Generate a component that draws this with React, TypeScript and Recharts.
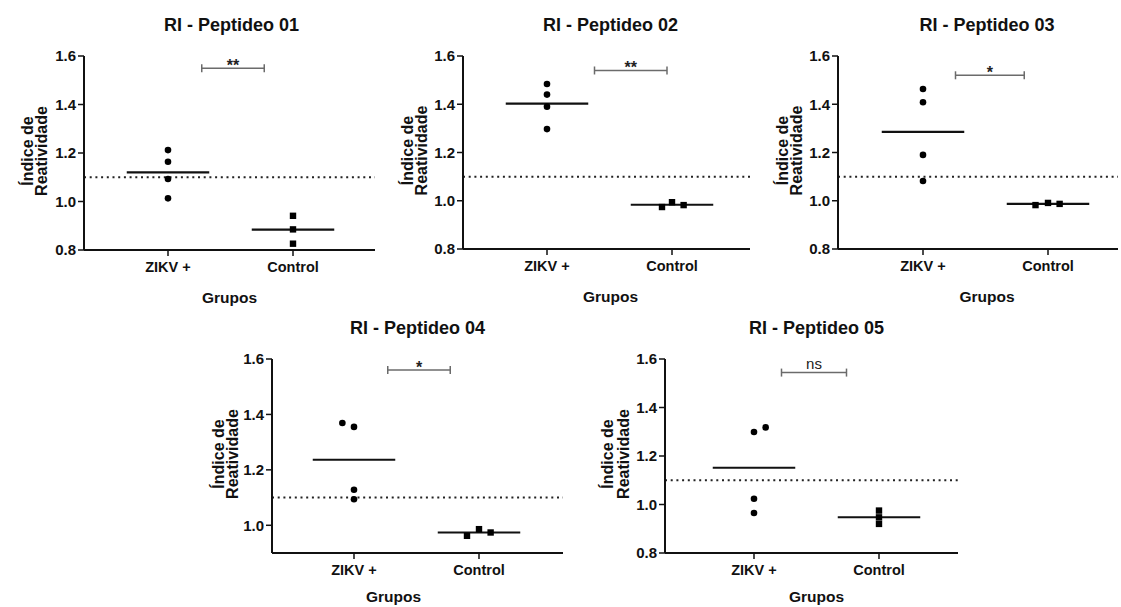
import { ScatterChart, Scatter, XAxis, YAxis, ReferenceLine, Customized } from "recharts";

const FONT = "'Liberation Sans', Arial, Helvetica, sans-serif";

const groups = ["ZIKV +", "Control"];
const cutoff = 1.1;

const fullTicks = [0.8, 1.0, 1.2, 1.4, 1.6];
const shortTicks = [1.0, 1.2, 1.4, 1.6];

// Índice de Reatividade per peptide
const p1Zikv = [1.212, 1.164, 1.093, 1.013];
const p1Control = [0.941, 0.885, 0.826];
const p2Zikv = [1.484, 1.44, 1.39, 1.297];
const p2Control = [0.974, 0.994, 0.982];
const p3Zikv = [1.463, 1.408, 1.19, 1.082];
const p3Control = [0.982, 0.991, 0.987];
const p4Zikv = [1.369, 1.355, 1.128, 1.094];
const p4Control = [0.962, 0.986, 0.974];
const p5Zikv = [1.299, 1.318, 1.024, 0.965];
const p5Control = [0.975, 0.947, 0.92];

const significance = ["**", "**", "*", "*", "ns"];

type Box = { x: number; y: number; w: number; h: number };
type Plot = { l: number; r: number; t: number; b: number };

type Panel = {
  title: string;
  zikv: number[];
  control: number[];
  zikvJitter: number[];
  controlJitter: number[];
  sig: string;
  box: Box;
  plot: Plot;
  xDomain: [number, number];
  yDomain: [number, number];
  yTicks: number[];
  bracket: [number, number, number];
  titleDx: number;
  groupDx: number;
  labelDx: [number, number];
};

const panels: Panel[] = [
  {
    title: "RI - Peptideo 01",
    zikv: p1Zikv,
    control: p1Control,
    zikvJitter: [0, 0, 0, 0],
    controlJitter: [0, 0, 0],
    sig: significance[0],
    box: { x: 0, y: 0, w: 380, h: 310 },
    plot: { l: 84, r: 375, t: 56, b: 250 },
    xDomain: [0.328, 2.656],
    yDomain: [0.8, 1.6],
    yTicks: fullTicks,
    bracket: [1.27, 1.77, 1.55],
    titleDx: 2,
    groupDx: 0,
    labelDx: [-51, -37],
  },
  {
    title: "RI - Peptideo 02",
    zikv: p2Zikv,
    control: p2Control,
    zikvJitter: [0, 0, 0, 0],
    controlJitter: [-0.08, 0, 0.093],
    sig: significance[1],
    box: { x: 380, y: 0, w: 375, h: 310 },
    plot: { l: 463, r: 750, t: 56, b: 249 },
    xDomain: [0.328, 2.624],
    yDomain: [0.8, 1.6],
    yTicks: fullTicks,
    bracket: [1.38, 1.96, 1.54],
    titleDx: 4,
    groupDx: 4,
    labelDx: [-50, -36],
  },
  {
    title: "RI - Peptideo 03",
    zikv: p3Zikv,
    control: p3Control,
    zikvJitter: [0, 0, 0, 0],
    controlJitter: [-0.1, 0, 0.093],
    sig: significance[2],
    box: { x: 755, y: 0, w: 366, h: 310 },
    plot: { l: 838, r: 1118, t: 56, b: 249 },
    xDomain: [0.32, 2.56],
    yDomain: [0.8, 1.6],
    yTicks: fullTicks,
    bracket: [1.26, 1.81, 1.52],
    titleDx: 9,
    groupDx: 9,
    labelDx: [-50, -36],
  },
  {
    title: "RI - Peptideo 04",
    zikv: p4Zikv,
    control: p4Control,
    zikvJitter: [-0.093, 0, 0, 0],
    controlJitter: [-0.096, 0, 0.093],
    sig: significance[3],
    box: { x: 180, y: 305, w: 390, h: 302 },
    plot: { l: 272, r: 563, t: 359, b: 553 },
    xDomain: [0.344, 2.672],
    yDomain: [0.9, 1.6],
    yTicks: shortTicks,
    bracket: [1.27, 1.77, 1.56],
    titleDx: 0,
    groupDx: -24,
    labelDx: [-48, -34],
  },
  {
    title: "RI - Peptideo 05",
    zikv: p5Zikv,
    control: p5Control,
    zikvJitter: [0, 0.093, 0, 0],
    controlJitter: [0, 0, 0],
    sig: significance[4],
    box: { x: 570, y: 305, w: 395, h: 302 },
    plot: { l: 665, r: 958, t: 359, b: 553 },
    xDomain: [0.288, 2.632],
    yDomain: [0.8, 1.6],
    yTicks: fullTicks,
    bracket: [1.22, 1.74, 1.544],
    titleDx: 5,
    groupDx: 5,
    labelDx: [-52, -36],
  },
];

const Y_AXIS_W = 40;
const X_AXIS_H = 30;
const HALF = 0.33;

const mean = (v: number[]) => v.reduce((a, b) => a + b, 0) / v.length;

function PanelText({ p }: { p: Panel }) {
  const cx = (p.plot.l + p.plot.r) / 2 - p.box.x;
  const cy = (p.plot.t + p.plot.b) / 2 - p.box.y;
  const l = p.plot.l - p.box.x;
  const groupY = Math.min(p.plot.b - p.box.y + 53, p.box.h - 5);
  return (
    <g fontFamily={FONT} fontWeight="bold" fill="#111">
      <text x={cx + p.titleDx} y={p.plot.t - p.box.y - 25} textAnchor="middle" fontSize={18}>
        {p.title}
      </text>
      <text x={cx + p.groupDx} y={groupY} textAnchor="middle" fontSize={15.5}>
        Grupos
      </text>
      <text
        transform={`translate(${l + p.labelDx[0]},${cy - 2}) rotate(-90)`}
        textAnchor="middle"
        fontSize={16}
      >
        Índice de
      </text>
      <text
        transform={`translate(${l + p.labelDx[1]},${cy - 2}) rotate(-90)`}
        textAnchor="middle"
        fontSize={16}
      >
        Reatividade
      </text>
    </g>
  );
}

function PanelChart({ p }: { p: Panel }) {
  const zikvData = p.zikv.map((v, i) => ({ x: 1 + p.zikvJitter[i], y: v }));
  const controlData = p.control.map((v, i) => ({ x: 2 + p.controlJitter[i], y: v }));
  const zm = mean(p.zikv);
  const cm = mean(p.control);
  const [bx1, bx2, by] = p.bracket;
  const margin = {
    top: p.plot.t - p.box.y,
    left: p.plot.l - p.box.x - Y_AXIS_W,
    right: p.box.x + p.box.w - p.plot.r,
    bottom: p.box.y + p.box.h - p.plot.b - X_AXIS_H,
  };
  const isNs = p.sig === "ns";

  return (
    <div style={{ position: "absolute", left: p.box.x, top: p.box.y }}>
      <ScatterChart width={p.box.w} height={p.box.h} margin={margin}>
        <XAxis
          type="number"
          dataKey="x"
          domain={p.xDomain}
          ticks={[1, 2]}
          tickFormatter={(v) => groups[Math.round(v) - 1]}
          height={X_AXIS_H}
          axisLine={{ stroke: "#111", strokeWidth: 2 }}
          tickLine={{ stroke: "#111", strokeWidth: 1.5 }}
          tickSize={6}
          tickMargin={6}
          tick={{ fontSize: 14.5, fontWeight: "bold", fill: "#111", fontFamily: FONT }}
          allowDataOverflow
        />
        <YAxis
          type="number"
          dataKey="y"
          domain={p.yDomain}
          ticks={p.yTicks}
          tickFormatter={(v) => Number(v).toFixed(1)}
          width={Y_AXIS_W}
          axisLine={{ stroke: "#111", strokeWidth: 2 }}
          tickLine={{ stroke: "#111", strokeWidth: 1.5 }}
          tickSize={6}
          tickMargin={2}
          tick={{ fontSize: 15, fontWeight: "bold", fill: "#111", fontFamily: FONT }}
          allowDataOverflow
        />
        <ReferenceLine y={cutoff} stroke="#222" strokeWidth={2} strokeDasharray="2 3.7" />
        <ReferenceLine
          segment={[
            { x: 1 - HALF, y: zm },
            { x: 1 + HALF, y: zm },
          ]}
          stroke="#111"
          strokeWidth={2.2}
        />
        <ReferenceLine
          segment={[
            { x: 2 - HALF, y: cm },
            { x: 2 + HALF, y: cm },
          ]}
          stroke="#111"
          strokeWidth={2.2}
        />
        <ReferenceLine
          segment={[
            { x: bx1, y: by },
            { x: bx2, y: by },
          ]}
          ifOverflow="visible"
          shape={(s: any) => (
            <g>
              <line x1={s.x1} y1={s.y1} x2={s.x2} y2={s.y2} stroke="#6b6b6b" strokeWidth={1.5} />
              <line x1={s.x1} y1={s.y1 - 4} x2={s.x1} y2={s.y1 + 4} stroke="#6b6b6b" strokeWidth={1.5} />
              <line x1={s.x2} y1={s.y2 - 4} x2={s.x2} y2={s.y2 + 4} stroke="#6b6b6b" strokeWidth={1.5} />
              <text
                x={(s.x1 + s.x2) / 2}
                y={s.y1 + (isNs ? -4 : 3)}
                textAnchor="middle"
                fontFamily={FONT}
                fontSize={isNs ? 15 : 16}
                fontWeight={isNs ? "normal" : "bold"}
                fill="#222"
              >
                {p.sig}
              </text>
            </g>
          )}
        />
        <Scatter
          data={zikvData}
          isAnimationActive={false}
          shape={(s: any) => <circle cx={s.cx} cy={s.cy} r={3.3} fill="#000" />}
        />
        <Scatter
          data={controlData}
          isAnimationActive={false}
          shape={(s: any) => <rect x={s.cx - 3.2} y={s.cy - 3.2} width={6.4} height={6.4} fill="#000" />}
        />
        <Customized component={<PanelText p={p} />} />
      </ScatterChart>
    </div>
  );
}

export default function App() {
  return (
    <div
      style={{
        position: "absolute",
        left: 0,
        top: 0,
        width: 1121,
        height: 607,
        background: "#fff",
        overflow: "hidden",
      }}
    >
      {panels.map((p) => (
        <PanelChart key={p.title} p={p} />
      ))}
    </div>
  );
}
